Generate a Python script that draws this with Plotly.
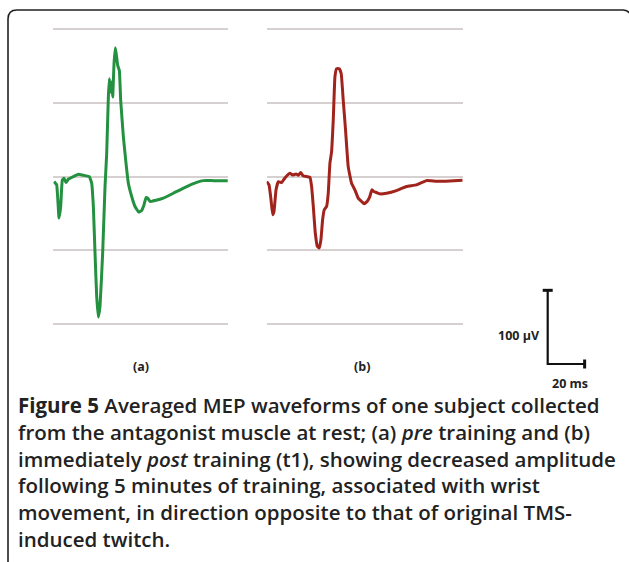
import plotly.graph_objects as go

W, H = 629, 562

# Panel (a): pre training  (time in ms, amplitude in µV)
pre_t = [0.38, 1.82, 3.08, 3.98, 4.88, 5.78, 6.86, 8.13, 10.83, 13.53, 16.23, 19.48, 20.74,
         21.64, 22.54, 23.44, 24.34, 25.24, 26.68, 27.95, 28.85, 29.75, 30.29, 31.01, 31.55,
         32.09, 32.81, 33.53, 34.25, 34.79, 35.69, 36.41, 37.86, 39.30, 40.56, 42.36, 44.16,
         46.14, 47.76, 49.03, 50.11, 51.01, 52.27, 54.97, 59.48, 64.88, 72.09, 77.49, 81.10,
         86.50, 94.25]
pre_uv = [-6.7, -11.2, -56.2, -40.5, -4.4, -2.2, -8.0, -3.5, 0.0, 3.2, 1.9, 0.0, -9.0,
          -40.5, -103.5, -162.1, -190.5, -175.6, -103.5, -13.4, 31.6, 108.2, 133.0, 115.0, 128.5,
          108.2, 153.2, 174.9, 162.3, 151.0, 144.2, 103.7, 54.1, 18.1, -9.0, -26.9, -40.5,
          -48.1, -45.9, -38.3, -28.4, -29.2, -33.7, -32.4, -29.2, -22.5, -13.4, -7.7, -5.4,
          -5.4, -5.4]

# Panel (b): immediately post training (t1)
post_t = [0.0, 1.26, 2.34, 3.24, 3.96, 5.05, 6.31, 8.11, 9.37, 10.81, 12.61, 14.05, 15.86,
          17.12, 18.38, 19.82, 21.98, 23.42, 24.32, 25.23, 26.31, 27.39, 28.47, 29.37, 30.27,
          31.17, 32.43, 33.33, 34.23, 35.14, 36.04, 36.94, 37.84, 39.28, 40.36, 41.44, 42.70,
          44.14, 45.95, 47.75, 49.55, 51.35, 52.79, 54.39, 55.84, 56.92, 58.00, 59.46, 61.26,
          64.86, 70.27, 75.68, 81.08, 86.49, 91.89, 99.10, 106.0]
post_uv = [-6.7, -11.2, -31.4, -51.7, -47.2, -17.9, -6.7, -8.0, -3.5, 0.9, 4.6, 2.3, 3.6,
           1.9, 5.5, 0.9, 0.0, -0.9, -13.4, -40.5, -76.5, -94.5, -96.8, -85.5, -58.5,
           -45.0, -40.5, -22.4, 18.1, 33.9, 76.7, 135.2, 146.5, 146.5, 139.7, 103.7, 63.2,
           13.6, -9.0, -17.9, -29.2, -33.7, -36.8, -33.7, -27.0, -17.9, -20.2, -21.5, -23.3,
           -22.5, -18.9, -13.4, -11.2, -5.4, -6.3, -5.9, -5.0]

grid_vals = [-200, -100, 0, 100, 200]
panel_labels = ["(a)", "(b)"]
scale_labels = ["100 µV", "20 ms"]
caption_lines = [
    "<b>Figure 5</b> Averaged MEP waveforms of one subject collected",
    "from the antagonist muscle at rest; (a) <i>pre</i> training and (b)",
    "immediately <i>post</i> training (t1), showing decreased amplitude",
    "following 5 minutes of training, associated with wrist",
    "movement, in direction opposite to that of original TMS-",
    "induced twitch.",
]

GREEN = "#23913f"
RED = "#a1241c"
GRID = "#d6d0d0"

def px_x(p):
    return p / W

def px_y(p):
    return 1 - p / H

def P(x, y):
    return f"{x/W:.5f},{1 - y/H:.5f}"

# y range: grid -200..200 maps to pixel 324..29.3; pad 20 µV on each side
upv = (324 - 29.3) / 400.0
pad = 20
y_top_px = 29.3 - pad * upv
y_bot_px = 324 + pad * upv

fig = go.Figure()
fig.add_trace(go.Scatter(x=pre_t, y=pre_uv, mode="lines",
                         line=dict(color=GREEN, width=3, shape="spline", smoothing=0.3),
                         xaxis="x", yaxis="y", showlegend=False, hoverinfo="skip"))
fig.add_trace(go.Scatter(x=post_t, y=post_uv, mode="lines",
                         line=dict(color=RED, width=3, shape="spline", smoothing=0.3),
                         xaxis="x2", yaxis="y2", showlegend=False, hoverinfo="skip"))

axis_common = dict(showticklabels=False, zeroline=False, showline=False, ticks="")
yax = dict(axis_common, range=[-200 - pad, 200 + pad], tickvals=grid_vals, showgrid=True,
           gridcolor=GRID, gridwidth=2,
           domain=[px_y(y_bot_px), px_y(y_top_px)])

fig.update_layout(
    width=W, height=H,
    margin=dict(l=0, r=0, t=0, b=0),
    paper_bgcolor="white", plot_bgcolor="rgba(0,0,0,0)",
    xaxis=dict(axis_common, showgrid=False, range=[0, 94.4], domain=[px_x(53.3), px_x(228)]),
    yaxis=dict(yax, anchor="x"),
    xaxis2=dict(axis_common, showgrid=False, range=[0, 106.3], domain=[px_x(266.7), px_x(463)]),
    yaxis2=dict(yax, anchor="x2"),
)

# Border (rounded rectangle that runs past right and bottom edges)
r = 9
fig.add_shape(type="path", xref="paper", yref="paper",
              path=f"M {P(8, H+5)} L {P(8, 10+r)} Q {P(8, 10)} {P(8+r, 10)} L {P(623, 10)} Q {P(628, 10)} {P(631, 15)}",
              line=dict(color="#222", width=1.6))

# Scale bar (100 µV vertical, 20 ms horizontal)
bar_x0_px, bar_y0_px = 547.7, 364.0
sx = 20 * (463 - 266.7) / 106.3   # px for 20 ms
sy = 100 * upv                      # px for 100 µV
fig.add_shape(type="path", xref="paper", yref="paper",
              path=f"M {P(bar_x0_px, bar_y0_px - sy)} L {P(bar_x0_px, bar_y0_px)} L {P(bar_x0_px + sx, bar_y0_px)}",
              line=dict(color="#111", width=2.2))
fig.add_shape(type="line", xref="paper", yref="paper",
              x0=(bar_x0_px - 5) / W, x1=(bar_x0_px + 5) / W,
              y0=px_y(bar_y0_px - sy), y1=px_y(bar_y0_px - sy),
              line=dict(color="#111", width=3))
fig.add_shape(type="line", xref="paper", yref="paper",
              x0=(bar_x0_px + sx) / W, x1=(bar_x0_px + sx) / W,
              y0=px_y(bar_y0_px - 4.5), y1=px_y(bar_y0_px + 4.5),
              line=dict(color="#111", width=3))

small_font = dict(family="Open Sans", size=12.5, color="#222", weight=700)
fig.add_annotation(x=px_x(519), y=px_y(335), xref="paper", yref="paper", text=scale_labels[0],
                   showarrow=False, font=small_font, xanchor="center", yanchor="middle")
fig.add_annotation(x=px_x(569.5), y=px_y(383), xref="paper", yref="paper", text=scale_labels[1],
                   showarrow=False, font=small_font, xanchor="center", yanchor="middle")
fig.add_annotation(x=px_x(141), y=px_y(366), xref="paper", yref="paper", text=panel_labels[0],
                   showarrow=False, font=small_font, xanchor="center", yanchor="middle")
fig.add_annotation(x=px_x(362), y=px_y(366), xref="paper", yref="paper", text=panel_labels[1],
                   showarrow=False, font=small_font, xanchor="center", yanchor="middle")

cap_font = dict(family="Open Sans", size=20.5, color="#222", weight=600)
for i, line in enumerate(caption_lines):
    fig.add_annotation(x=px_x(16), y=px_y(405 + i * 26.8), xref="paper", yref="paper", text=line,
                       showarrow=False, font=cap_font, xanchor="left", yanchor="middle", align="left")

fig.write_html("out.html")
